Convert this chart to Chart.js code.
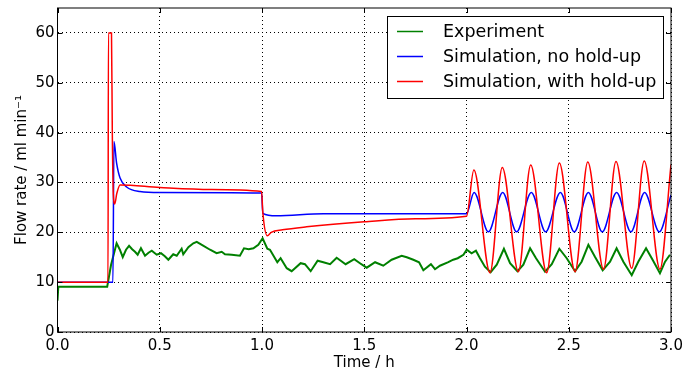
<!DOCTYPE html>
<html>
<head>
<meta charset="utf-8">
<script src="https://cdn.jsdelivr.net/npm/chart.js@4.4.1/dist/chart.umd.min.js"></script>
<style>
  html, body { margin: 0; padding: 0; background: #fff; }
  #wrap { width: 700px; height: 378px; }
</style>
</head>
<body>
<div id="wrap"><canvas id="flowChart"></canvas></div>
<script>
const xTicks = [0, 0.5, 1, 1.5, 2, 2.5, 3];
const yTicks = [0, 10, 20, 30, 40, 50, 60];

// Experiment
const expTime = [0, 0.004, 0.243, 0.262, 0.289, 0.305, 0.319, 0.335, 0.35, 0.365, 0.379, 0.392, 0.408, 0.428,
  0.445, 0.461, 0.485, 0.506, 0.525, 0.542, 0.566, 0.583, 0.607, 0.615, 0.64, 0.664, 0.681, 0.71, 0.746, 0.778,
  0.803, 0.819, 0.852, 0.892, 0.912, 0.935, 0.958, 0.982, 1.003, 1.026, 1.039, 1.075, 1.091, 1.121, 1.145, 1.189,
  1.21, 1.238, 1.272, 1.3, 1.333, 1.365, 1.409, 1.451, 1.479, 1.512, 1.553, 1.593, 1.634, 1.683, 1.708, 1.74,
  1.768, 1.789, 1.826, 1.846, 1.87, 1.911, 1.935, 1.957, 1.985, 2.001, 2.025, 2.046, 2.066, 2.09, 2.118, 2.148,
  2.183, 2.213, 2.249, 2.278, 2.311, 2.34, 2.384, 2.417, 2.454, 2.49, 2.531, 2.563, 2.596, 2.628, 2.666, 2.702,
  2.734, 2.767, 2.808, 2.84, 2.878, 2.91, 2.946, 2.971, 2.995];
const expFlow = [6.3, 9.1, 9.1, 13.5, 17.8, 16.5, 15.0, 16.5, 17.3, 16.6, 16.1, 15.5, 16.8, 15.3,
  15.9, 16.3, 15.5, 15.8, 15.2, 14.5, 15.6, 15.3, 16.7, 15.6, 17.0, 17.8, 18.1, 17.4, 16.5, 15.8,
  16.1, 15.6, 15.5, 15.3, 16.8, 16.6, 16.8, 17.5, 18.8, 16.7, 16.5, 14.0, 14.8, 12.8, 12.2, 13.8,
  13.6, 12.2, 14.3, 14.0, 13.6, 14.9, 13.6, 14.6, 13.8, 12.9, 14.0, 13.3, 14.5, 15.3, 15.0, 14.5,
  14.0, 12.4, 13.6, 12.6, 13.3, 14.0, 14.5, 14.8, 15.5, 16.5, 15.8, 16.3, 14.8, 13.1, 12.0, 13.5,
  16.7, 13.8, 12.2, 13.5, 16.8, 14.8, 12.1, 13.6, 16.7, 14.8, 12.2, 14.1, 17.5, 15.1, 12.4, 14.1,
  16.8, 14.1, 11.4, 14.1, 16.8, 14.5, 11.8, 14.1, 15.5];

// Simulation, no hold-up
const noHoldTime = [0, 0.271, 0.276, 0.289, 0.306, 0.338, 0.403, 0.5, 0.998, 1.004, 1.07, 1.3, 2.0,
  2.037, 2.107, 2.177, 2.245, 2.317, 2.387, 2.459, 2.527, 2.596, 2.664, 2.734, 2.804, 2.871, 2.943, 3.0];
const noHoldFlow = [10, 10, 38.2, 33.9, 30.9, 29.1, 28.2, 28.0, 27.9, 23.8, 23.3, 23.7, 23.7,
  28.0, 20.1, 28.0, 20.1, 28.0, 20.1, 28.0, 20.1, 28.0, 20.1, 28.0, 20.1, 28.0, 20.1, 27.5];

// Simulation, with hold-up
const holdTime = [0, 0.247, 0.249, 0.264, 0.268, 0.273, 0.28, 0.29, 0.306, 0.5, 0.75, 0.998, 1.004, 1.026,
  1.045, 1.1, 1.218, 1.5, 1.75, 2.0,
  2.036, 2.115, 2.175, 2.254, 2.314, 2.392, 2.454, 2.531, 2.593, 2.67, 2.731, 2.808, 2.869, 2.946, 3.0];
const holdFlow = [10, 10, 60, 60, 40, 27.5, 25.7, 27.8, 29.5, 29.0, 28.6, 28.2, 24.0, 19.3,
  20.0, 20.5, 21.1, 22.1, 22.7, 23.2,
  32.5, 11.9, 33.0, 12.1, 33.5, 11.9, 33.9, 12.1, 34.1, 12.6, 34.2, 12.8, 34.3, 12.6, 33.6];

const toPoints = (times, values) => times.map((t, i) => ({ x: t, y: values[i] }));

const FONT = 'DejaVu Sans';
Chart.defaults.font.family = FONT;
Chart.defaults.color = '#000';

const frameAndLegend = {
  id: 'frameAndLegend',
  afterDraw(chart) {
    const { ctx, chartArea: a, scales } = chart;
    ctx.save();
    ctx.strokeStyle = '#000';
    ctx.lineWidth = 1;
    ctx.strokeRect(a.left, a.top, a.right - a.left, a.bottom - a.top);

    // inward ticks on all four sides
    const tl = 5;
    ctx.beginPath();
    xTicks.forEach((v) => {
      const px = Math.round(scales.x.getPixelForValue(v)) + 0.5;
      ctx.moveTo(px, a.bottom); ctx.lineTo(px, a.bottom - tl);
      ctx.moveTo(px, a.top); ctx.lineTo(px, a.top + tl);
    });
    yTicks.forEach((v) => {
      const py = Math.round(scales.y.getPixelForValue(v)) + 0.5;
      ctx.moveTo(a.left, py); ctx.lineTo(a.left + tl, py);
      ctx.moveTo(a.right, py); ctx.lineTo(a.right - tl, py);
    });
    ctx.stroke();

    // legend box, upper right
    const bx = 387, by = 16, bw = 276, bh = 82;
    ctx.fillStyle = '#fff';
    ctx.fillRect(bx, by, bw, bh);
    ctx.strokeRect(bx + 0.5, by + 0.5, bw, bh);
    ctx.font = '17.5px "' + FONT + '"';
    ctx.textBaseline = 'middle';
    ctx.textAlign = 'left';
    chart.data.datasets.forEach((ds, i) => {
      const ry = by + 15.5 + i * 25;
      ctx.strokeStyle = ds.borderColor;
      ctx.lineWidth = 1.5;
      ctx.beginPath();
      ctx.moveTo(bx + 10, ry); ctx.lineTo(bx + 36, ry);
      ctx.stroke();
      ctx.fillStyle = '#000';
      ctx.fillText(ds.label, bx + 56, ry + 1);
    });
    ctx.restore();
  }
};

new Chart(document.getElementById('flowChart').getContext('2d'), {
  type: 'line',
  data: {
    datasets: [
      {
        label: 'Experiment',
        data: toPoints(expTime, expFlow),
        borderColor: '#008000',
        borderWidth: 2,
        tension: 0,
        order: 3,
      },
      {
        label: 'Simulation, no hold-up',
        data: toPoints(noHoldTime, noHoldFlow),
        borderColor: '#0000ff',
        borderWidth: 1.5,
        cubicInterpolationMode: 'monotone',
        order: 2,
      },
      {
        label: 'Simulation, with hold-up',
        data: toPoints(holdTime, holdFlow),
        borderColor: '#ff0000',
        borderWidth: 1.5,
        cubicInterpolationMode: 'monotone',
        order: 1,
      },
    ],
  },
  options: {
    responsive: true,
    maintainAspectRatio: false,
    animation: false,
    parsing: false,
    elements: { point: { radius: 0 } },
    layout: { padding: { top: 8, right: 29, left: 0, bottom: 0 } },
    plugins: {
      legend: { display: false },
      tooltip: { enabled: false },
    },
    scales: {
      x: {
        type: 'linear',
        min: 0,
        max: 3,
        afterBuildTicks: (scale) => { scale.ticks = xTicks.map((v) => ({ value: v })); },
        afterFit: (scale) => { scale.height = 46; scale.paddingLeft = 0; scale.paddingRight = 0; },
        ticks: {
          callback: (v) => v.toFixed(1),
          font: { size: 15 },
          padding: 5,
          maxRotation: 0,
          autoSkip: false,
        },
        grid: { color: '#000', lineWidth: 1, drawTicks: false },
        border: { display: false, dash: [1, 3] },
        title: { display: true, text: 'Time / h', font: { size: 15 }, padding: { top: 0, bottom: 6 } },
      },
      y: {
        type: 'linear',
        min: 0,
        max: 65,
        afterBuildTicks: (scale) => { scale.ticks = yTicks.map((v) => ({ value: v })); },
        afterFit: (scale) => { scale.width = 57.5; scale.paddingTop = 0; scale.paddingBottom = 0; },
        ticks: { font: { size: 15 }, padding: 3 },
        grid: { color: '#000', lineWidth: 1, drawTicks: false },
        border: { display: false, dash: [1, 3] },
        title: { display: true, text: 'Flow rate / ml min⁻¹', font: { size: 15 }, padding: { top: 13, bottom: 0 } },
      },
    },
  },
  plugins: [frameAndLegend],
});
</script>
</body>
</html>
